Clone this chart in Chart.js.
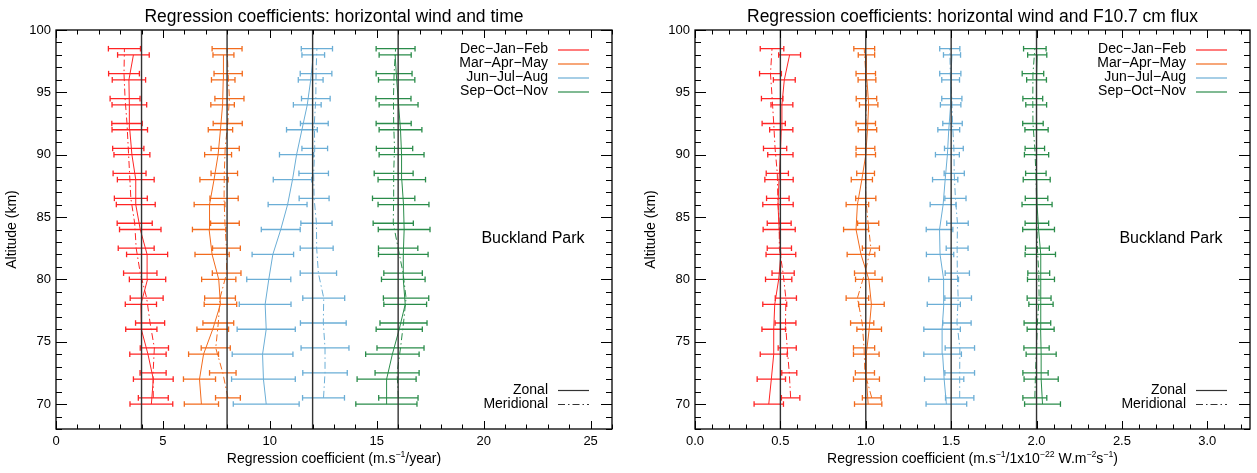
<!DOCTYPE html>
<html>
<head>
<meta charset="utf-8">
<script src="https://cdn.jsdelivr.net/npm/chart.js@4.4.1/dist/chart.umd.min.js"></script>
<style>
  html, body { margin: 0; padding: 0; background: #fff; }
  #wrap { position: relative; width: 1257px; height: 473px; }
  .panel { position: absolute; top: 0; height: 473px; }
  #pLeft { left: 0; width: 639px; }
  #pRight { left: 639px; width: 618px; }
</style>
</head>
<body>
<div id="wrap">
  <div class="panel" id="pLeft"><canvas id="chartTime"></canvas></div>
  <div class="panel" id="pRight"><canvas id="chartFlux"></canvas></div>
</div>
<script>
// altitudes of the fits (km); meridional values are plotted 0.5 km higher
const altitudes = [70, 72, 74, 76, 78, 80, 82, 84, 86, 88, 90, 92, 94, 96, 98];
const seasons = ['Dec−Jan−Feb', 'Mar−Apr−May', 'Jun−Jul−Aug', 'Sep−Oct−Nov'];
const altTicks = [70, 75, 80, 85, 90, 95, 100];
const timeTicks = [0, 5, 10, 15, 20, 25];
const fluxTicks = [0.0, 0.5, 1.0, 1.5, 2.0, 2.5, 3.0];
const timeOffsets = [4, 8, 12, 16];
const fluxOffsets = [0.5, 1.0, 1.5, 2.0];

// left panel: wind vs time (plotted with season offsets 4, 8, 12, 16)
const timeZonal = [
  [4.46, 4.55, 4.30, 3.99, 3.97, 4.28, 4.26, 3.94, 3.73, 3.73, 3.55, 3.45, 3.43, 3.41, 3.62],
  [6.80, 6.71, 6.90, 7.33, 7.69, 7.61, 7.30, 7.16, 7.18, 7.39, 7.58, 7.69, 7.79, 7.82, 7.83],
  [9.83, 9.70, 9.66, 9.83, 9.78, 9.95, 10.14, 10.51, 10.83, 11.06, 11.25, 11.50, 11.75, 11.91, 12.03],
  [15.45, 15.46, 15.73, 16.05, 16.33, 16.24, 16.24, 16.28, 16.25, 16.17, 16.16, 16.11, 16.02, 15.93, 15.86],
];
const timeZonalErr = [
  [1.00, 0.93, 0.85, 0.73, 0.73, 0.85, 0.96, 0.97, 0.91, 0.86, 0.84, 0.83, 0.81, 0.78, 0.74],
  [0.80, 0.75, 0.70, 0.74, 0.76, 0.80, 0.80, 0.78, 0.72, 0.66, 0.63, 0.57, 0.55, 0.55, 0.49],
  [1.54, 1.49, 1.42, 1.36, 1.21, 1.03, 0.97, 0.91, 0.91, 0.90, 0.80, 0.72, 0.65, 0.58, 0.53],
  [1.43, 1.38, 1.25, 1.08, 1.00, 1.02, 1.16, 1.21, 1.19, 1.11, 1.05, 1.00, 0.91, 0.85, 0.75],
];
const timeMerid = [
  [4.55, 4.54, 4.60, 4.40, 4.24, 3.94, 3.75, 3.68, 3.50, 3.44, 3.38, 3.32, 3.23, 3.18, 3.20],
  [8.04, 7.80, 7.47, 7.59, 7.67, 7.98, 7.97, 7.90, 7.86, 7.87, 7.91, 8.03, 8.11, 8.05, 8.00],
  [12.51, 12.58, 12.58, 12.50, 12.52, 12.27, 12.19, 12.18, 12.07, 12.05, 12.10, 12.08, 12.15, 12.16, 12.20],
  [16.01, 15.95, 16.11, 16.25, 16.37, 16.23, 16.00, 15.77, 15.79, 15.79, 15.83, 15.79, 15.78, 15.81, 15.88],
];
const timeMeridErr = [
  [0.70, 0.61, 0.66, 0.68, 0.77, 0.78, 0.84, 0.82, 0.77, 0.77, 0.73, 0.71, 0.70, 0.72, 0.75],
  [0.58, 0.62, 0.68, 0.72, 0.72, 0.67, 0.65, 0.67, 0.66, 0.62, 0.66, 0.68, 0.68, 0.66, 0.70],
  [0.98, 1.04, 1.12, 1.07, 0.98, 0.85, 0.77, 0.73, 0.70, 0.69, 0.60, 0.65, 0.67, 0.74, 0.73],
  [0.92, 1.03, 1.10, 1.10, 1.06, 0.90, 0.92, 0.94, 0.99, 0.91, 0.85, 0.82, 0.82, 0.84, 0.91],
];

// right panel: wind vs F10.7 flux (offsets 0.5, 1.0, 1.5, 2.0)
const fluxZonal = [
  [0.432, 0.447, 0.461, 0.461, 0.467, 0.490, 0.503, 0.493, 0.486, 0.492, 0.500, 0.505, 0.509, 0.523, 0.554],
  [1.014, 1.004, 1.003, 1.020, 1.033, 1.018, 0.972, 0.943, 0.951, 0.977, 1.000, 1.010, 1.017, 1.007, 1.004],
  [1.472, 1.459, 1.450, 1.447, 1.457, 1.456, 1.435, 1.432, 1.453, 1.465, 1.478, 1.486, 1.497, 1.497, 1.505],
  [2.035, 2.027, 2.027, 2.024, 2.026, 2.026, 2.022, 2.012, 2.003, 2.001, 2.000, 2.000, 1.998, 2.000, 2.004],
];
const fluxZonalErr = [
  [0.086, 0.083, 0.079, 0.069, 0.070, 0.077, 0.087, 0.094, 0.089, 0.083, 0.074, 0.068, 0.064, 0.064, 0.064],
  [0.080, 0.076, 0.075, 0.072, 0.075, 0.078, 0.081, 0.073, 0.066, 0.062, 0.057, 0.054, 0.054, 0.052, 0.048],
  [0.119, 0.115, 0.110, 0.107, 0.097, 0.087, 0.080, 0.078, 0.076, 0.074, 0.070, 0.064, 0.060, 0.052, 0.050],
  [0.105, 0.100, 0.088, 0.079, 0.071, 0.079, 0.089, 0.093, 0.088, 0.079, 0.071, 0.068, 0.061, 0.058, 0.056],
];
const fluxMerid = [
  [0.560, 0.552, 0.540, 0.530, 0.532, 0.516, 0.494, 0.493, 0.485, 0.482, 0.469, 0.461, 0.452, 0.442, 0.451],
  [1.035, 0.995, 0.990, 0.979, 0.951, 0.994, 1.030, 1.014, 1.000, 0.999, 0.998, 1.000, 1.004, 1.000, 0.991],
  [1.550, 1.550, 1.551, 1.534, 1.541, 1.536, 1.535, 1.537, 1.525, 1.518, 1.516, 1.508, 1.504, 1.495, 1.492],
  [1.990, 1.994, 2.000, 2.005, 2.015, 2.013, 2.005, 2.002, 2.000, 1.996, 1.990, 1.979, 1.978, 1.979, 1.990],
];
const fluxMeridErr = [
  [0.054, 0.044, 0.053, 0.061, 0.062, 0.065, 0.071, 0.070, 0.066, 0.065, 0.068, 0.068, 0.063, 0.064, 0.069],
  [0.055, 0.056, 0.062, 0.068, 0.066, 0.060, 0.050, 0.062, 0.059, 0.052, 0.055, 0.057, 0.060, 0.057, 0.061],
  [0.083, 0.087, 0.086, 0.083, 0.078, 0.071, 0.064, 0.063, 0.062, 0.059, 0.055, 0.057, 0.059, 0.062, 0.059],
  [0.070, 0.074, 0.074, 0.078, 0.070, 0.064, 0.070, 0.069, 0.066, 0.060, 0.057, 0.060, 0.058, 0.063, 0.066],
];

const MERID_SHIFT = 0.5;
const SEASON_COLORS = ['#ff2424', '#f26b1d', '#6baed6', '#2a8c4a'];
const DASH_DOT = [7, 3, 1.5, 3];
const FONT = '"Liberation Sans", Arial, Helvetica, sans-serif';

function errorSet(vals, errs, shift, color) {
  const data = [];
  vals.forEach((v, i) => {
    const y = altitudes[i] + shift;
    data.push({ x: v - errs[i], y }, { x: v + errs[i], y }, { x: null, y: null });
  });
  return {
    data, showLine: true, spanGaps: false,
    borderColor: color, borderWidth: 1.3,
    pointStyle: 'line', pointRotation: 90, pointRadius: 2.8,
    pointBorderColor: color, pointBorderWidth: 1.3, pointHoverRadius: 0,
  };
}

function buildDatasets(offsets, zonal, zonalErr, merid, meridErr) {
  const sets = offsets.map(o => ({
    data: [{ x: o, y: 68 }, { x: o, y: 100 }],
    showLine: true, borderColor: '#333', borderWidth: 1.4, pointRadius: 0,
  }));
  seasons.forEach((s, k) => {
    const c = SEASON_COLORS[k];
    sets.push({
      data: altitudes.map((a, i) => ({ x: zonal[k][i], y: a })),
      showLine: true, borderColor: c, borderWidth: 1, pointRadius: 0,
    });
    sets.push({
      data: altitudes.map((a, i) => ({ x: merid[k][i], y: a + MERID_SHIFT })),
      showLine: true, borderColor: c, borderWidth: 1, borderDash: DASH_DOT, pointRadius: 0,
    });
    sets.push(errorSet(zonal[k], zonalErr[k], 0, c));
    sets.push(errorSet(merid[k], meridErr[k], MERID_SHIFT, c));
  });
  return sets;
}

function drawRich(ctx, parts, cx, cy, size) {
  const sup = size * 0.62;
  let total = 0;
  parts.forEach(p => {
    ctx.font = `${p.sup ? sup : size}px ${FONT}`;
    p.w = ctx.measureText(p.t).width;
    total += p.w;
  });
  let x = cx - total / 2;
  ctx.textAlign = 'left';
  ctx.textBaseline = 'alphabetic';
  parts.forEach(p => {
    ctx.font = `${p.sup ? sup : size}px ${FONT}`;
    ctx.fillText(p.t, x, p.sup ? cy - size * 0.42 : cy);
    x += p.w;
  });
}

// box, inward ticks on all sides, title, legends and labels
const framePlugin = {
  id: 'frame',
  afterDraw(chart, args, opts) {
    const { ctx, chartArea: a, scales: { x, y } } = chart;
    ctx.save();
    ctx.strokeStyle = '#000';
    ctx.lineWidth = 1;
    ctx.beginPath();
    const nx = Math.round((x.max - x.min) / opts.xMinor);
    for (let i = 0; i <= nx; i++) {
      const v = x.min + i * opts.xMinor;
      const px = Math.round(x.getPixelForValue(v)) + 0.5;
      const r = v / opts.xMajor;
      const len = Math.abs(r - Math.round(r)) < 1e-6 ? 8 : 4.5;
      ctx.moveTo(px, a.bottom); ctx.lineTo(px, a.bottom - len);
      ctx.moveTo(px, a.top); ctx.lineTo(px, a.top + len);
    }
    for (let v = Math.ceil(y.min); v <= y.max; v++) {
      const py = Math.round(y.getPixelForValue(v)) + 0.5;
      const len = v % 5 === 0 ? 11 : 6;
      ctx.moveTo(a.left, py); ctx.lineTo(a.left + len, py);
      ctx.moveTo(a.right, py); ctx.lineTo(a.right - len, py);
    }
    ctx.stroke();
    ctx.lineWidth = 1.3;
    ctx.strokeRect(a.left, a.top, a.right - a.left, a.bottom - a.top);

    ctx.fillStyle = '#000';
    ctx.font = `17.5px ${FONT}`;
    ctx.textAlign = 'center';
    ctx.textBaseline = 'alphabetic';
    ctx.fillText(opts.title, (a.left + a.right) / 2, 22);

    // season legend
    ctx.font = `14px ${FONT}`;
    ctx.textAlign = 'right';
    ctx.textBaseline = 'middle';
    const tx = a.right - 64, l0 = a.right - 54, l1 = a.right - 23;
    seasons.forEach((s, k) => {
      const yy = a.top + 19.5 + k * 14;
      ctx.fillText(s, tx, yy);
      ctx.strokeStyle = SEASON_COLORS[k];
      ctx.lineWidth = 1.2;
      ctx.beginPath(); ctx.moveTo(l0, yy + 0.5); ctx.lineTo(l1, yy + 0.5); ctx.stroke();
    });
    // component legend
    [['Zonal', []], ['Meridional', DASH_DOT]].forEach(([s, dash], k) => {
      const yy = a.top + 360 + k * 14;
      ctx.fillText(s, tx, yy);
      ctx.strokeStyle = '#333';
      ctx.lineWidth = 1.2;
      ctx.setLineDash(dash);
      ctx.beginPath(); ctx.moveTo(l0, yy + 0.5); ctx.lineTo(l1, yy + 0.5); ctx.stroke();
      ctx.setLineDash([]);
    });
    ctx.font = `16px ${FONT}`;
    ctx.textAlign = 'center';
    ctx.fillText('Buckland Park', a.right - 79, a.top + 209);

    // x axis title with superscripts
    drawRich(ctx, opts.xTitle, (a.left + a.right) / 2, 463, 14);
    ctx.restore();
  },
};

function makeChart(id, title, xMax, xTickVals, xMinor, xMajor, fmt, xTitle, datasets) {
  return new Chart(document.getElementById(id), {
    type: 'scatter',
    data: { datasets },
    plugins: [framePlugin],
    options: {
      responsive: true,
      maintainAspectRatio: false,
      animation: false,
      events: [],
      layout: { padding: { left: 0, right: id === 'chartTime' ? 27 : 7, top: 30, bottom: 0 } },
      plugins: {
        legend: { display: false },
        tooltip: { enabled: false },
        title: { display: false },
        frame: { xMinor, xMajor, xTitle, title },
      },
      scales: {
        x: {
          type: 'linear', min: 0, max: xMax,
          grid: { display: false, drawTicks: false },
          border: { display: false },
          afterBuildTicks: s => { s.ticks = xTickVals.map(v => ({ value: v })); },
          afterFit: s => { s.height = 44; },
          ticks: {
            color: '#000', padding: 5, maxRotation: 0,
            font: { family: FONT, size: 13 },
            callback: v => fmt(v),
          },
        },
        y: {
          type: 'linear', min: 68, max: 100,
          grid: { display: false, drawTicks: false },
          border: { display: false },
          afterBuildTicks: s => { s.ticks = altTicks.map(v => ({ value: v })); },
          afterFit: s => { s.width = 56; },
          ticks: {
            color: '#000', padding: 5,
            font: { family: FONT, size: 13 },
          },
          title: {
            display: true, text: 'Altitude (km)', color: '#000',
            font: { family: FONT, size: 14 },
            padding: { top: 4, bottom: 0 },
          },
        },
      },
    },
  });
}

makeChart('chartTime', 'Regression coefficients: horizontal wind and time', 26,
  timeTicks, 1, 5, v => String(v),
  [{ t: 'Regression coefficient (m.s' }, { t: '−1', sup: true }, { t: '/year)' }],
  buildDatasets(timeOffsets, timeZonal, timeZonalErr, timeMerid, timeMeridErr));

makeChart('chartFlux', 'Regression coefficients: horizontal wind and F10.7 cm flux', 3.25,
  fluxTicks, 0.1, 0.5, v => v.toFixed(1),
  [{ t: 'Regression coefficient (m.s' }, { t: '−1', sup: true }, { t: '/1x10' }, { t: '−22', sup: true },
   { t: ' W.m' }, { t: '−2', sup: true }, { t: 's' }, { t: '−1', sup: true }, { t: ')' }],
  buildDatasets(fluxOffsets, fluxZonal, fluxZonalErr, fluxMerid, fluxMeridErr));
</script>
</body>
</html>
